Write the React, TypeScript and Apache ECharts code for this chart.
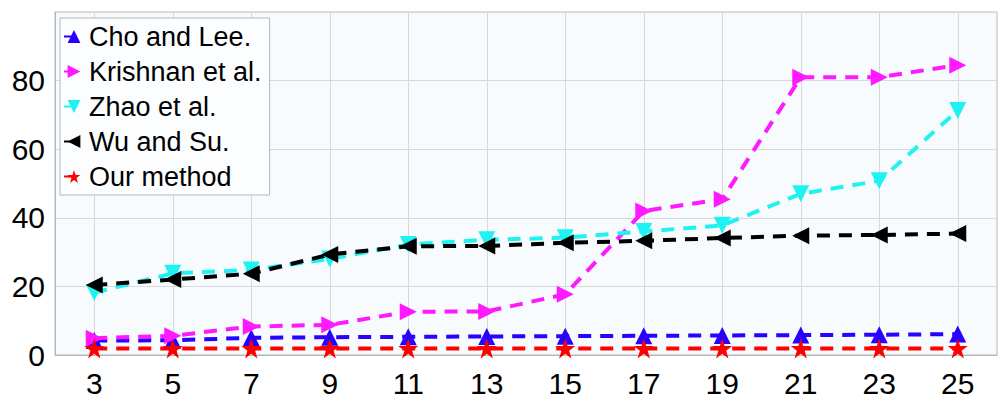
import React, { useEffect, useRef } from "react";
import * as echarts from "echarts";

// Window sizes on the x axis
const windowSizes = [3, 5, 7, 9, 11, 13, 15, 17, 19, 21, 23, 25];
const yTicks = [0, 20, 40, 60, 80];

// Series values
const choLee = [4.2, 4.3, 5.0, 5.2, 5.3, 5.4, 5.5, 5.6, 5.7, 5.8, 5.9, 6.1];
const krishnan = [4.9, 5.6, 8.3, 8.8, 12.6, 12.7, 17.7, 42.0, 45.4, 81.0, 81.0, 84.5];
const zhao = [18.2, 23.8, 24.8, 28.0, 32.2, 33.6, 34.2, 36.0, 37.8, 47.0, 50.8, 71.3];
const wuSu = [20.4, 22.0, 23.7, 29.3, 31.7, 31.8, 32.7, 33.3, 34.1, 34.8, 35.0, 35.4];
const ours = [1.9, 1.9, 1.9, 1.9, 1.9, 1.9, 1.9, 1.9, 1.9, 1.9, 1.9, 1.9];

const STAR =
  "path://M50,0 L61.8,35.3 L99,35.3 L69,57.2 L80.4,92.7 L50,70.8 L19.6,92.7 L31,57.2 L1,35.3 L38.2,35.3 Z";

const FONT = "'Liberation Sans', Arial, sans-serif";

function makeSeries(
  name: string,
  values: number[],
  color: string,
  symbol: string,
  rotate: number,
  size: number
) {
  return {
    name,
    type: "line",
    data: windowSizes.map((x, i) => [x, values[i]]),
    symbol,
    symbolRotate: rotate,
    symbolSize: size,
    showAllSymbol: true,
    lineStyle: { color, width: 4, type: [13, 9] },
    itemStyle: { color, borderWidth: 0 },
  };
}

export default function App() {
  const ref = useRef<HTMLDivElement>(null);

  useEffect(() => {
    if (!ref.current) return;
    const chart = echarts.init(ref.current, null, { renderer: "svg" });
    chart.setOption({
      animation: false,
      backgroundColor: "#ffffff",
      grid: {
        left: 55,
        right: 11,
        top: 12,
        bottom: 46,
        show: true,
        backgroundColor: "#f7fbfd",
        borderColor: "#b4b8bb",
        borderWidth: 1,
      },
      legend: {
        left: 60,
        top: 18,
        orient: "vertical",
        backgroundColor: "#fbfdfe",
        borderColor: "#b4b8bb",
        borderWidth: 1,
        borderRadius: 0,
        padding: [5, 8, 5, 3],
        itemGap: 8,
        itemWidth: 20,
        itemHeight: 16,
        textStyle: { fontFamily: FONT, fontSize: 27, color: "#000" },
      },
      xAxis: {
        type: "value",
        min: 2,
        max: 26,
        axisLine: { show: true, lineStyle: { color: "#b4b8bb" } },
        axisTick: { show: false, customValues: windowSizes },
        axisLabel: {
          customValues: windowSizes,
          fontFamily: FONT,
          fontSize: 30,
          color: "#000",
          margin: 13,
        },
        splitLine: { show: true, lineStyle: { color: "#d6dadd", width: 1 } },
      },
      yAxis: {
        type: "value",
        min: 0,
        max: 100,
        interval: 20,
        axisLine: { show: true, lineStyle: { color: "#b4b8bb" } },
        axisTick: { show: false },
        axisLabel: {
          fontFamily: FONT,
          fontSize: 30,
          color: "#000",
          margin: 10,
          formatter: (v: number) => (yTicks.includes(v) ? String(v) : ""),
        },
        splitLine: { show: true, lineStyle: { color: "#d6dadd", width: 1 } },
      },
      series: [
        makeSeries("Cho and Lee.", choLee, "#2a00ff", "triangle", 0, 17),
        makeSeries("Krishnan et al.", krishnan, "#ff19ff", "triangle", -90, 17),
        makeSeries("Zhao et al.", zhao, "#1ff2f2", "triangle", 180, 17),
        makeSeries("Wu and Su.", wuSu, "#000000", "triangle", 90, 17),
        makeSeries("Our method", ours, "#ff0000", STAR, 0, 20),
      ],
    });
    return () => chart.dispose();
  }, []);

  return (
    <div
      ref={ref}
      style={{ position: "fixed", left: 0, top: 0, width: 1008, height: 401 }}
    />
  );
}
